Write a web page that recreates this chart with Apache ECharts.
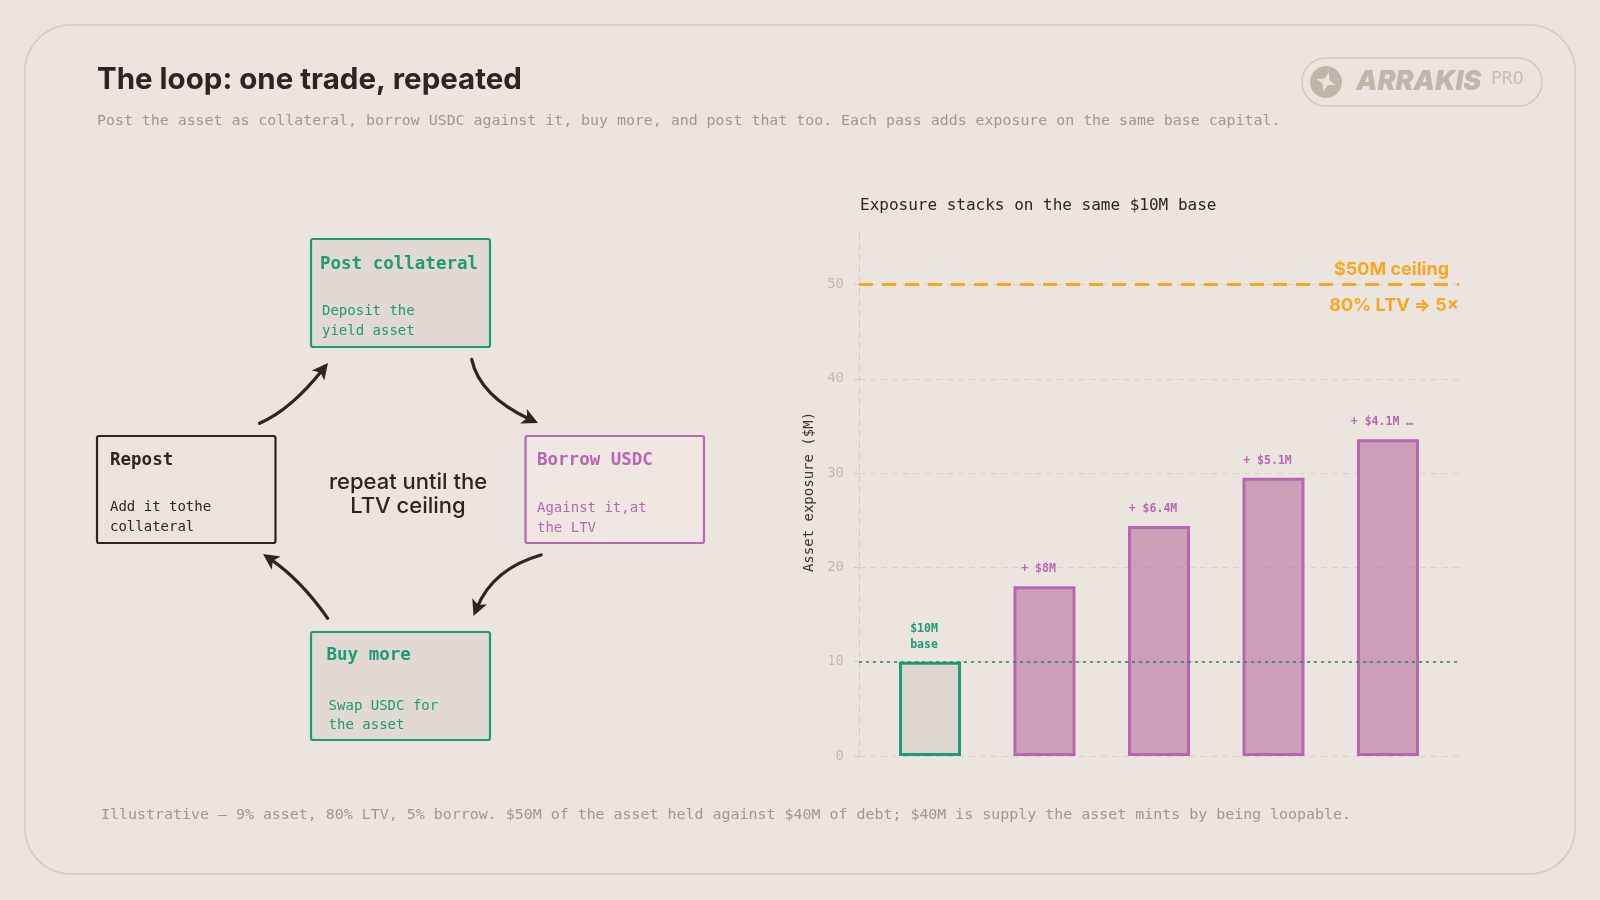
<!DOCTYPE html>
<html>
<head>
<meta charset="utf-8">
<script src="https://cdn.jsdelivr.net/npm/echarts@6/dist/echarts.min.js"></script>
<style>
html, body { margin: 0; padding: 0; background: #ebe4de; }
#main { width: 1600px; height: 900px; }
</style>
</head>
<body>
<div id="main"></div>
<script>
'use strict';

// chart data
let steps = ['base', 'pass 1', 'pass 2', 'pass 3', 'pass 4'];
let exposure = [10, 18, 24.4, 29.5, 33.6];
let stepLabels = ['$10M\nbase', '+ $8M', '+ $6.4M', '+ $5.1M', '+ $4.1M …'];
let yTicks = [0, 10, 20, 30, 40, 50];
let yTop = 56;
let baseLine = 10;
let ceiling = 50;
let ceilingLabels = ['$50M ceiling', '80% LTV ⇒ 5×'];

const GREEN = '#1d9a76';
const PURPLE = '#b866b2';
const ORANGE = '#f7a823';
const INK = '#2b2623';
const MUTED = '#a1978c';
const MONO = '"DejaVu Sans Mono", "Liberation Mono", monospace';
const SANS = 'Inter, "Noto Sans", sans-serif';

let myChart = echarts.init(document.getElementById('main'));

function txt(x, y, text, color, size, family, weight, align, extra) {
	let style = {
		text: text, x: x, y: y + 2, fill: color,
		fontSize: size, fontFamily: family, fontWeight: weight || 'normal',
		align: align || 'left', textAlign: align || 'left',
		verticalAlign: 'middle', textVerticalAlign: 'middle'
	};
	Object.assign(style, extra || {});
	return { type: 'text', z: 10, style: style };
}

function box(x, y, w, h, stroke, fill, title, tx, ty, desc, dx, dy, color) {
	let out = [{
		type: 'rect', z: 5,
		shape: { x: x, y: y, width: w, height: h, r: 2 },
		style: { fill: fill, stroke: stroke, lineWidth: 2.2 }
	}];
	out.push(txt(tx, ty, title, color, 17.5, MONO, 'bold'));
	desc.split('\n').forEach((line, i) => {
		out.push(txt(dx, dy + i * 19.5, line, color, 14, MONO));
	});
	return out;
}

function arrow(p0, c, p2) {
	let dx = p2[0] - c[0], dy = p2[1] - c[1];
	let len = Math.sqrt(dx * dx + dy * dy);
	dx /= len; dy /= len;
	let L = 16, W = 8;
	let bx = p2[0] - dx * L, by = p2[1] - dy * L;
	let end = [p2[0] - dx * 9, p2[1] - dy * 9];
	return [{
		type: 'bezierCurve', z: 6,
		shape: { x1: p0[0], y1: p0[1], x2: end[0], y2: end[1], cpx1: c[0], cpy1: c[1] },
		style: { stroke: INK, lineWidth: 3.2, fill: null, lineCap: 'round' }
	}, {
		type: 'polygon', z: 6,
		shape: { points: [p2, [bx - dy * W, by + dx * W], [bx + dx * 4, by + dy * 4], [bx + dy * W, by - dx * W]] },
		style: { fill: INK }
	}];
}

let graphics = [];
// card
graphics.push({
	type: 'rect', z: -10,
	shape: { x: 25, y: 25, width: 1550, height: 849, r: 46 },
	style: { fill: '#ece5df', stroke: '#d9d0c5', lineWidth: 2 }
});
// header
graphics.push(txt(97, 78.5, 'The loop: one trade, repeated', INK, 29.5, SANS, 'bold'));
graphics.push(txt(97, 119.5, 'Post the asset as collateral, borrow USDC against it, buy more, and post that too. Each pass adds exposure on the same base capital.', MUTED, 14.9, MONO));
graphics.push(txt(101, 813, 'Illustrative — 9% asset, 80% LTV, 5% borrow. $50M of the asset held against $40M of debt; $40M is supply the asset mints by being loopable.', MUTED, 14.95, MONO));
// logo
graphics.push({
	type: 'rect', z: 5,
	shape: { x: 1302, y: 58, width: 240, height: 48, r: 24 },
	style: { fill: 'none', stroke: '#d2c9bd', lineWidth: 1.5 }
});
graphics.push({ type: 'circle', z: 5, shape: { cx: 1326, cy: 82, r: 16 }, style: { fill: '#bfb8aa' } });
graphics.push({
	type: 'polygon', z: 6, x: 1326, y: 82, rotation: -0.3,
	shape: { points: [[0, -10], [2.6, -2.6], [10, 0], [2.6, 2.6], [0, 10], [-2.6, 2.6], [-10, 0], [-2.6, -2.6]] },
	style: { fill: '#ece5df' }
});
graphics.push(txt(1356, 80, 'ARRAKIS', '#bfb8aa', 27, SANS, 900, 'left', { fontStyle: 'italic' }));
graphics.push(txt(1491, 77, 'PRO', '#c6bfb3', 18, MONO));

// loop diagram
graphics = graphics.concat(
	box(311, 239, 179, 108, GREEN, '#e1d9d2', 'Post collateral', 320, 262, 'Deposit the\nyield asset', 322, 309.5, GREEN),
	box(525.5, 436, 178.5, 107, PURPLE, '#f0e7e3', 'Borrow USDC', 537, 458, 'Against it,at\nthe LTV', 537, 506.5, PURPLE),
	box(311, 632, 179, 108, GREEN, '#e1d9d2', 'Buy more', 326.5, 653, 'Swap USDC for\nthe asset', 328.6, 704, GREEN),
	box(97, 436, 178.5, 107, INK, '#ebe3dd', 'Repost', 110, 458, 'Add it tothe\ncollateral', 110, 505.5, INK),
	arrow([259.6, 423.3], [290.7, 409.8], [328, 363]),
	arrow([471.7, 359.3], [479.6, 395.8], [538, 423]),
	arrow([541, 555], [493.4, 568.4], [473.5, 616]),
	arrow([327.7, 618.3], [300.9, 580], [263, 554])
);
graphics.push(txt(408, 480, 'repeat until the', INK, 22, SANS, 500, 'center'));
graphics.push(txt(408, 504, 'LTV ceiling', INK, 22, SANS, 500, 'center'));
// chart title
graphics.push(txt(860, 204, 'Exposure stacks on the same $10M base', INK, 16, MONO));

let barData = steps.map((s, i) => {
	let base = i === 0;
	return {
		name: s,
		value: [i, exposure[i]],
		itemStyle: base
			? { color: '#ddd6ce', borderColor: GREEN, borderWidth: 3 }
			: { color: 'rgba(178,100,152,0.55)', borderColor: PURPLE, borderWidth: 3 },
		label: {
			color: base ? GREEN : PURPLE,
			fontWeight: 'bold'
		}
	};
});

let option = {
	animation: false,
	backgroundColor: '#ebe4de',
	graphic: { elements: graphics },
	grid: { left: 859, right: 141, top: 228, bottom: 144 },
	xAxis: {
		type: 'value',
		min: -0.62,
		max: steps.length - 1 + 0.62,
		show: false
	},
	yAxis: {
		type: 'value',
		min: yTicks[0],
		max: yTop,
		interval: yTicks[1] - yTicks[0],
		name: 'Asset exposure ($M)',
		nameLocation: 'middle',
		nameGap: 43,
		nameTextStyle: { color: '#3a3330', fontFamily: MONO, fontSize: 14 },
		axisLine: { show: true, onZero: false, lineStyle: { color: '#d3c9bd', type: [6, 5], width: 1 } },
		axisTick: { show: true, length: 5, lineStyle: { color: '#d3c9bd' } },
		axisLabel: {
			color: '#c3baae', fontFamily: MONO, fontSize: 14, margin: 15,
			showMaxLabel: false,
			formatter: v => (yTicks.indexOf(v) >= 0 ? String(v) : '')
		},
		splitLine: { show: true, showMaxLine: false, lineStyle: { color: '#dcd3c8', type: [6, 5], width: 1 } }
	},
	series: [{
		type: 'bar',
		data: barData,
		barWidth: 62,
		label: {
			show: true,
			position: 'top',
			distance: 9,
			offset: [-6, 0],
			fontFamily: MONO,
			fontSize: 11.5,
			lineHeight: 16,
			formatter: p => stepLabels[p.dataIndex]
		},
		markLine: {
			silent: true,
			symbol: 'none',
			data: [{
				yAxis: baseLine,
				lineStyle: { color: '#2a8468', type: [3, 4], width: 1.5 },
				label: { show: false }
			}, {
				yAxis: ceiling,
				lineStyle: { color: ORANGE, type: [14, 9], width: 3 },
				label: {
					show: true, position: 'insideEndTop', distance: [10, 6],
					formatter: ceilingLabels[0],
					color: ORANGE, fontFamily: SANS, fontWeight: 'bold', fontSize: 18
				}
			}, {
				yAxis: ceiling,
				lineStyle: { color: 'rgba(0,0,0,0)', width: 0.01 },
				label: {
					show: true, position: 'insideEndBottom', distance: [0, 12],
					formatter: ceilingLabels[1],
					color: ORANGE, fontFamily: SANS, fontWeight: 'bold', fontSize: 18
				}
			}]
		}
	}]
};
myChart.setOption(option);
</script>
</body>
</html>
